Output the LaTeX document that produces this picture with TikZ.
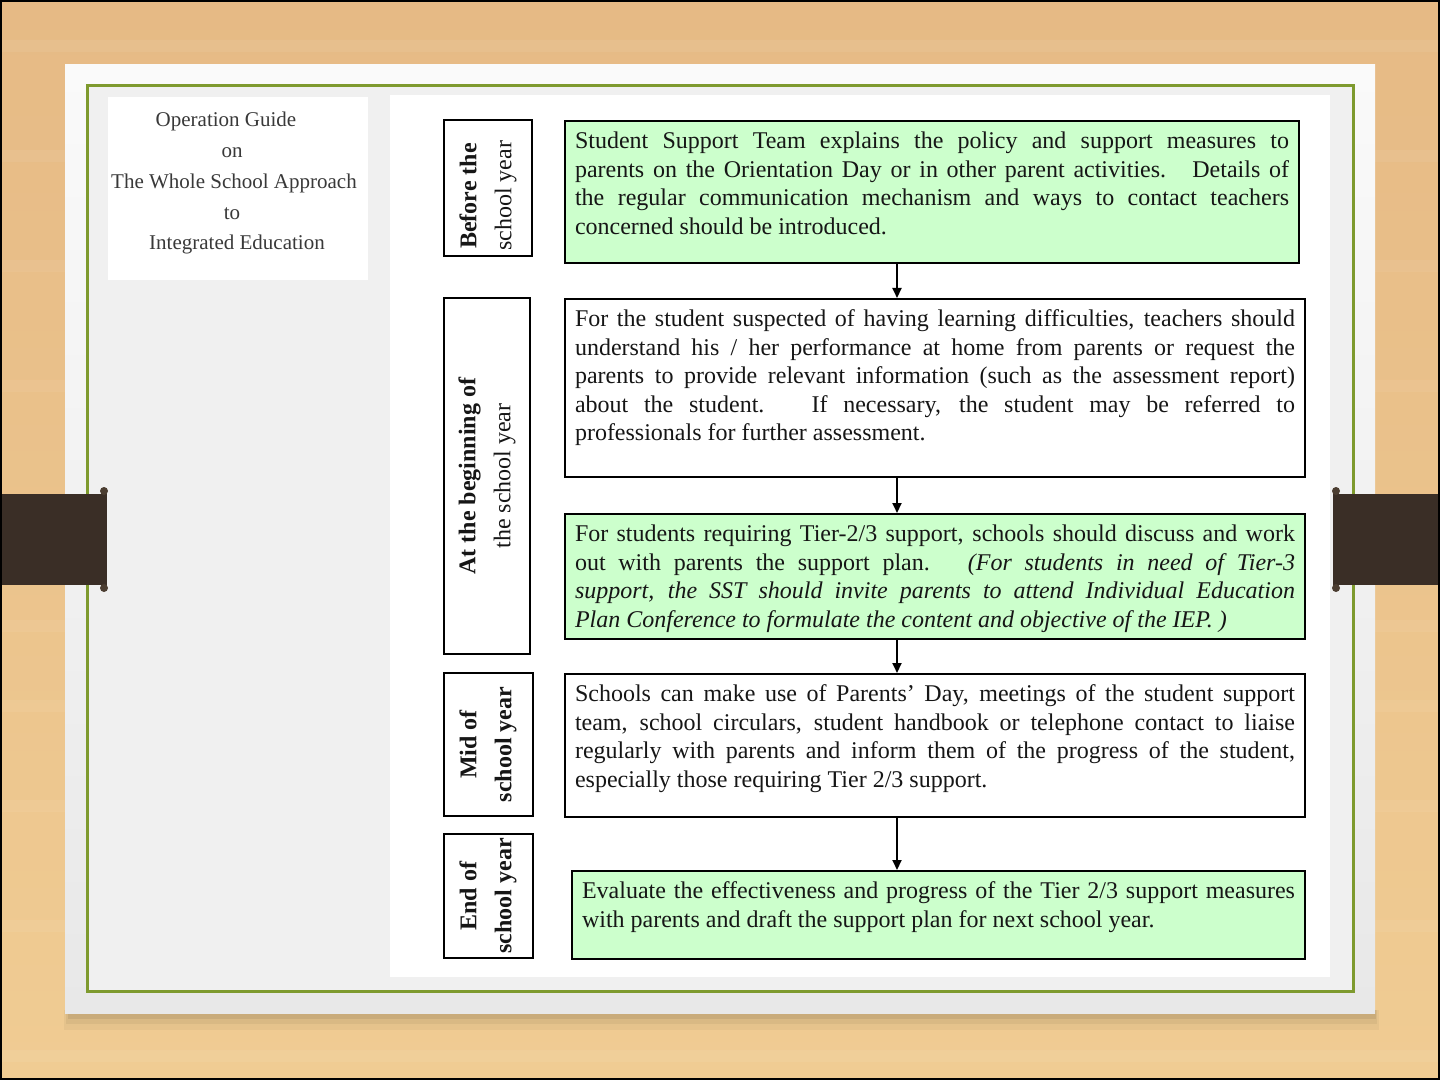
\documentclass[tikz,border=0pt]{standalone}
\usepackage{fontspec}
\setmainfont{Liberation Serif}
\usetikzlibrary{arrows.meta}
\definecolor{woodtop}{HTML}{E6BA85}
\definecolor{woodbot}{HTML}{F0CC93}
\definecolor{olive}{HTML}{7E9A2E}
\definecolor{boxgreen}{HTML}{CCFFCC}
\definecolor{bandc}{HTML}{3A2E26}
\definecolor{knobc}{HTML}{4B3D31}
\definecolor{cardtop}{HTML}{FAFAFA}
\definecolor{cardbot}{HTML}{E8E8E8}
\definecolor{panelgray}{HTML}{F0F0F0}
\definecolor{inkc}{HTML}{161616}
\newcommand{\bt}[3]{\parbox[c][#1][t]{#2}{#3}}
\newcommand{\jl}[1]{\makebox[\linewidth][s]{#1}\par}
\begin{document}
\begin{tikzpicture}[x=0.5pt,y=-0.5pt,
  stagebox/.style={draw=black,line width=1pt,fill=white,inner sep=0pt,rotate=90,
    align=center,text=inkc,font=\fontsize{12}{17.5}\selectfont},
  stepbox/.style={draw=black,line width=1pt,inner xsep=5pt,inner ysep=5.5pt,
    anchor=north west,text=inkc,font=\fontsize{12}{14.25}\selectfont},
  greenbox/.style={stepbox,fill=boxgreen},
  whitebox/.style={stepbox,fill=white},
  flow/.style={line width=1pt,-{Triangle[width=4.5pt,length=5pt]}}]
\useasboundingbox (0,0) rectangle (1440,1080);
% wood background
\shade[top color=woodtop,bottom color=woodbot] (0,0) rectangle (1440,1080);
\foreach \yy in {40,150,260,380,620,700,800,920,1050}{
  \fill[white,opacity=0.06] (0,\yy) rectangle (1440,\yy+12);}
% card shadow
\fill[black,opacity=0.04] (64,1010) rectangle (1379,1030);
\fill[black,opacity=0.05] (66,1010) rectangle (1377,1024);
\fill[black,opacity=0.07] (68,1010) rectangle (1376,1019);
% card
\shade[top color=cardtop,bottom color=cardbot] (65,65) rectangle (1375,1013);
\fill[panelgray] (88,87) rectangle (1352,990);
% frame
\draw[olive,line width=1.5pt] (87,86) rectangle (1353,991);
% white panels
\fill[white] (390,95) rectangle (1330,977);
\fill[white] (108,97) rectangle (368,280);
% side bands
\fill[bandc] (0,494) rectangle (107,585);
\fill[knobc] (104,491) ellipse (4 and 4);
\fill[knobc] (104,588) ellipse (4 and 4);
\fill[bandc] (1333,494) rectangle (1440,585);
\fill[knobc] (1336,491) ellipse (4 and 4);
\fill[knobc] (1336,588) ellipse (4 and 4);
% outer border
\draw[black,line width=2pt] (0,0) rectangle (1440,1080);
% title
\node[align=center,text=inkc!85,font=\fontsize{10.5}{15.4}\selectfont,anchor=north] (title) at (232,105)
  {Operation Guide\hspace*{6pt}\\on\hspace*{5pt}\\\hspace*{2pt}The Whole School Approach\\to\hspace*{6pt}\\\hspace*{5pt}Integrated Education};
% stage labels
\node[stagebox,minimum width=68pt,minimum height=44pt] (s1) at (488,188)
  {\textbf{Before the}\hspace*{8pt}\\school year\hspace*{8pt}};
\node[stagebox,minimum width=178pt,minimum height=43pt] (s2) at (487,476)
  {\textbf{At the beginning of}\\the school year};
\node[stagebox,minimum width=71.5pt,minimum height=44.5pt] (s3) at (488,744.5)
  {\textbf{Mid of}\\\textbf{school year}};
\node[stagebox,minimum width=62pt,minimum height=44.5pt] (s4) at (488,896)
  {\textbf{End of}\\\textbf{school year}};
% step boxes
\node[greenbox] (b1) at (564,120) {\bt{60pt}{357pt}{%
\jl{Student Support Team explains the policy and support measures to}
\jl{parents on the Orientation Day or in other parent activities.\ \ \ Details of}
\jl{the regular communication mechanism and ways to contact teachers}
concerned should be introduced.}};
\node[whitebox] (b2) at (564,298) {\bt{78pt}{360pt}{%
\jl{For the student suspected of having learning difficulties, teachers should}
\jl{understand his / her performance at home from parents or request the}
\jl{parents to provide relevant information (such as the assessment report)}
\jl{about the student.\ \ \ If necessary, the student may be referred to}
professionals for further assessment.}};
\node[greenbox] (b3) at (564,513) {\bt{51.5pt}{360pt}{%
\jl{For students requiring Tier-2/3 support, schools should discuss and work}
\jl{out with parents the support plan.\ \ \ \textit{(For students in need of Tier-3}}
\jl{\textit{support, the SST should invite parents to attend Individual Education}}
\textit{Plan Conference to formulate the content and objective of the IEP. )}}};
\node[whitebox] (b4) at (564,673) {\bt{60.5pt}{360pt}{%
\jl{Schools can make use of Parents’ Day, meetings of the student support}
\jl{team, school circulars, student handbook or telephone contact to liaise}
\jl{regularly with parents and inform them of the progress of the student,}
especially those requiring Tier 2/3 support.}};
\node[greenbox] (b5) at (571,870) {\bt{33pt}{356.5pt}{%
\jl{Evaluate the effectiveness and progress of the Tier 2/3 support measures}
with parents and draft the support plan for next school year.}};
% arrows
\coordinate (ax) at (897,0);
\draw[flow] (b1.south -| ax) -- (b2.north -| ax);
\draw[flow] (b2.south -| ax) -- (b3.north -| ax);
\draw[flow] (b3.south -| ax) -- (b4.north -| ax);
\draw[flow] (b4.south -| ax) -- (b5.north -| ax);
\end{tikzpicture}
\end{document}
